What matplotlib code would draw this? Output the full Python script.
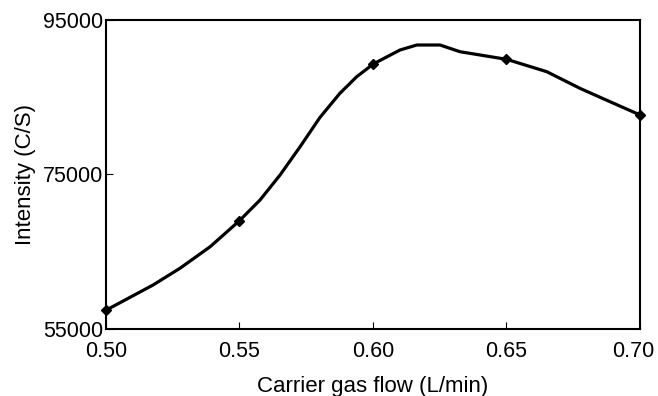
import matplotlib
matplotlib.use("Agg")
import matplotlib.pyplot as plt
from matplotlib.transforms import ScaledTranslation

plt.rcParams['font.family'] = ['Liberation Sans', 'DejaVu Sans']

# Measured intensities at each carrier gas flow
flow = [0.50, 0.55, 0.60, 0.65, 0.70]
intensity = [57400, 69000, 89300, 89900, 82700]

# Smoothed trend line through the measurements
curve_flow = [0.500, 0.5176, 0.5277, 0.5390, 0.550, 0.5577, 0.5652, 0.5727,
              0.5801, 0.5876, 0.5939, 0.6001, 0.6101, 0.6164, 0.6251, 0.6326,
              0.6501, 0.6651, 0.6775, 0.6888, 0.700]
curve_intensity = [57400, 60660, 62830, 65620, 69000, 71680, 74920, 78580,
                   82360, 85500, 87650, 89300, 91110, 91760, 91760, 90890,
                   89900, 88300, 86150, 84410, 82700]

x_ticks = [0.50, 0.55, 0.60, 0.65, 0.70]
x_tick_labels = ["0.50", "0.55", "0.60", "0.65", "0.70"]
y_ticks = [55000, 75000, 95000]
y_tick_labels = ["55000", "75000", "95000"]

fig = plt.figure(figsize=(6.58, 3.96), dpi=100)
ax = fig.add_axes([0.1611, 0.1699, 0.9726 - 0.1611, 0.9495 - 0.1699])

ax.plot(curve_flow, curve_intensity, color='black', linewidth=2.3,
        solid_joinstyle='round', solid_capstyle='round', zorder=3)
ax.plot(flow, intensity, linestyle='none', marker='D', markersize=5,
        color='black', zorder=4, clip_on=False)

ax.set_xlim(0.50, 0.70)
ax.set_ylim(55000, 95000)
ax.set_xticks(x_ticks)
ax.set_xticklabels(x_tick_labels)
ax.set_yticks(y_ticks)
ax.set_yticklabels(y_tick_labels)

ax.tick_params(direction='in', length=5, width=0.8, labelsize=15.5,
               colors='black')
ax.tick_params(axis='x', pad=9)
ax.tick_params(axis='y', pad=2)
for sp in ax.spines.values():
    sp.set_linewidth(1.5)

# keep the last x tick label inside the figure
last = ax.get_xticklabels()[-1]
last.set_transform(last.get_transform() +
                   ScaledTranslation(-6.5 / 100, 0, fig.dpi_scale_trans))

ax.set_xlabel("Carrier gas flow (L/min)", fontsize=16, labelpad=10)
ax.set_ylabel("Intensity (C/S)", fontsize=16, labelpad=5)

fig.savefig("out.png", dpi=100)
